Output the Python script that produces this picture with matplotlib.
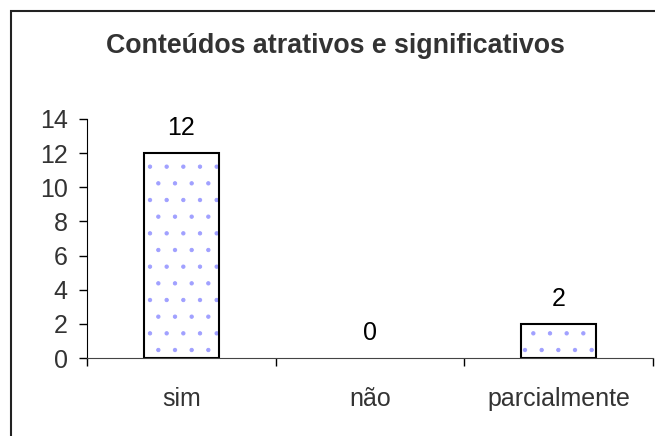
import matplotlib.pyplot as plt
from matplotlib.patches import Rectangle
import numpy as np

plt.rcParams['font.family'] = ['Liberation Sans', 'DejaVu Sans']
plt.rcParams['hatch.linewidth'] = 0.7

categories = ['sim', 'não', 'parcialmente']
valores = [12, 0, 2]
yticks = [0, 2, 4, 6, 8, 10, 12, 14]
titulo = 'Conteúdos atrativos e significativos'

txt = '#333333'

fig = plt.figure(figsize=(6.55, 4.36), dpi=100)
ax = fig.add_axes([87/655, 1 - 358/436, 566/655, 239/436])

x = np.arange(len(categories))
# pontilhado azul claro por baixo, contorno preto por cima
ax.bar(x, valores, width=0.4, color='white', edgecolor='#a0a0ff',
       hatch='.', linewidth=0)
bordas = [1.5 if v > 0 else 0 for v in valores]
ax.bar(x, valores, width=0.4, color='none', edgecolor='black', linewidth=bordas)

for xi, v in zip(x, valores):
    ax.text(xi, v + 0.75, str(v), ha='center', va='bottom', fontsize=18, color='black')

ax.set_xlim(-0.5, 2.5)
ax.set_ylim(0, 14)
ax.set_yticks(yticks)
ax.set_xticks(x)
ax.set_xticklabels(categories)
ax.set_xticks([-0.5, 0.5, 1.5, 2.5], minor=True)
ax.tick_params(axis='x', which='major', length=0, pad=21, labelsize=18, labelcolor=txt)
ax.tick_params(axis='x', which='minor', length=6, width=1, direction='out')
ax.tick_params(axis='y', length=6, width=1, direction='out', pad=8, labelsize=18, labelcolor=txt)

for s in ['top', 'right']:
    ax.spines[s].set_visible(False)
ax.spines['left'].set_color('black')
ax.spines['bottom'].set_color('#444444')

fig.text(335/655, 1 - 46/436, titulo, ha='center', va='center', fontsize=19.3,
         fontweight='bold', color=txt)

# moldura da área do gráfico
fig.patches.append(Rectangle((11/655, -0.1), 1.1, 1 - 11/436 + 0.1,
                             transform=fig.transFigure, fill=False,
                             edgecolor='#222222', linewidth=1.5))

fig.savefig('out.png', dpi=100)
